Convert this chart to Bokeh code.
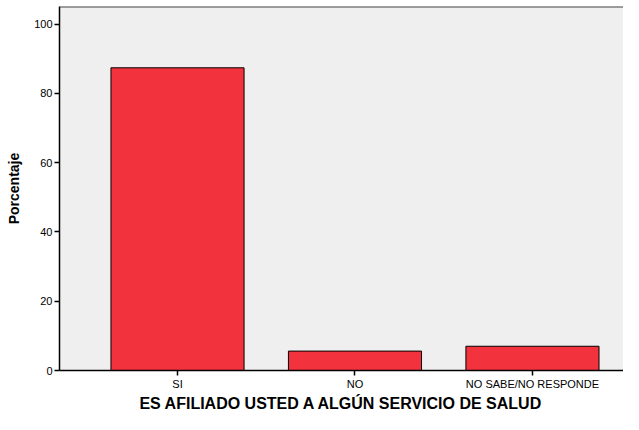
from bokeh.plotting import figure
from bokeh.models import FixedTicker, Range1d, Span
from bokeh.embed import file_html
from bokeh.resources import INLINE

categories = ["SI", "NO", "NO SABE/NO RESPONDE"]
percentages = [87.4, 5.6, 7.0]
y_ticks = [0, 20, 40, 60, 80, 100]

xs = list(range(len(categories)))
y_end = 105.1

p = figure(width=623, height=414, output_backend="svg", toolbar_location=None,
           x_range=Range1d(-0.665, 2.513), y_range=Range1d(0, y_end),
           min_border_left=59, min_border_top=6, min_border_right=0, min_border_bottom=41)

p.border_fill_color = "white"
p.background_fill_color = "#EFEFEF"
p.outline_line_color = None
p.grid.visible = False

p.vbar(x=xs, top=percentages, width=0.75, bottom=0,
       fill_color="#F2333D", line_color="black", line_width=1)

top_line = Span(location=y_end, dimension="width", line_color="#444444", line_width=2)
p.add_layout(top_line)

font = "Liberation Sans"

p.xaxis.ticker = FixedTicker(ticks=xs)
p.xaxis.major_label_overrides = {i: c for i, c in enumerate(categories)}
p.xaxis.axis_label = "ES AFILIADO USTED A ALGÚN SERVICIO DE SALUD"
p.yaxis.ticker = FixedTicker(ticks=y_ticks)
p.yaxis.axis_label = "Porcentaje"

for ax in (p.xaxis[0], p.yaxis[0]):
    ax.axis_line_color = "black"
    ax.axis_line_width = 1.5
    ax.major_tick_line_color = "black"
    ax.major_tick_line_width = 1.5
    ax.major_tick_out = 5
    ax.major_tick_in = 0
    ax.minor_tick_line_color = None
    ax.major_label_text_font = font
    ax.major_label_text_font_size = "11px"
    ax.major_label_text_color = "black"
    ax.axis_label_text_font = font
    ax.axis_label_text_font_style = "bold"
    ax.axis_label_text_color = "black"
    ax.major_label_standoff = 2

p.xaxis.axis_label_text_font_size = "16px"
p.xaxis.axis_label_standoff = 2
p.yaxis.axis_label_text_font_size = "14px"
p.yaxis.axis_label_standoff = 9
p.yaxis.major_label_orientation = "horizontal"

open("out.html", "w").write(file_html(p, INLINE))
